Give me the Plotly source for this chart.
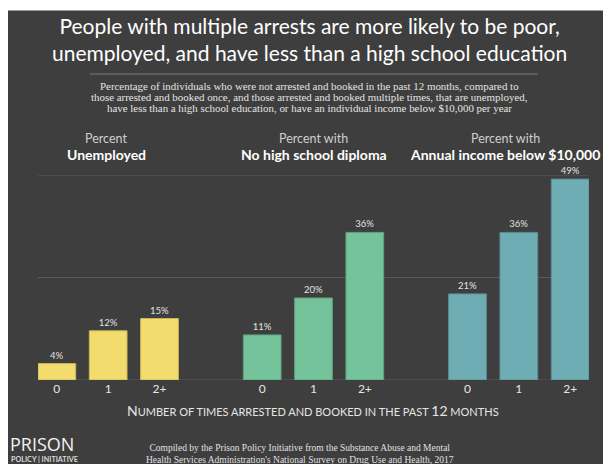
import plotly.graph_objects as go

# ---- data ----
categories = ["0", "1", "2+"]
unemployed = [4, 12, 15]
no_diploma = [11, 20, 36]
low_income = [21, 36, 49]
group_top = ["Percent", "Percent with", "Percent with"]
group_bold = ["Unemployed", "No high school diploma", "Annual income below $10,000"]
colors = ["#f3dc6e", "#74c39a", "#6fadb5"]
edge_colors = ["#c9b55a", "#5fa27f", "#5b8f96"]
grid_values = [0, 25, 50]

series = [unemployed, no_diploma, low_income]

# ---- layout geometry (screen pixels; the page body adds an 8px offset) ----
OFF = 8
W, H = 611 - OFF, 464 - OFF
L, R, T, B = 38, 589, 175, 380  # plot area in screen pixels


def px(x):
    return (x - L) / (R - L)


def py(y):
    return (B - y) / (B - T)


fig = go.Figure()
tickvals, ticktext = [], []
for g, vals in enumerate(series):
    xs = [g * 4 + i for i in range(len(vals))]
    tickvals += xs
    ticktext += categories
    fig.add_trace(go.Bar(
        x=xs, y=vals, width=0.735,
        marker=dict(color=colors[g], line=dict(color=edge_colors[g], width=1)),
        text=[f"{v}%" for v in vals], textposition="outside",
        textfont=dict(family="Lato", size=9.5, color="#e2e2e2"),
        cliponaxis=False, showlegend=False, hoverinfo="skip",
    ))

SANS = "Lato"
SERIF = "Liberation Serif"
ann = []
# title
ann.append(dict(x=px(309.5), y=py(39), xref="paper", yref="paper",
                text="People with multiple arrests are more likely to be poor,<br>unemployed, and have less than a high school education",
                showarrow=False, xanchor="center", yanchor="middle",
                font=dict(family=SANS, size=21, color="#ffffff")))
# subtitle lines
sub = ["Percentage of individuals who were not arrested and booked in the past 12 months, compared to",
       "those arrested and booked once, and those arrested and booked multiple times, that are unemployed,",
       "have less than a high school education, or have an individual income below $10,000 per year"]
for i, s in enumerate(sub):
    ann.append(dict(x=px(309.5), y=py(86 + 11 * i), xref="paper", yref="paper", text=s,
                    showarrow=False, xanchor="center", yanchor="middle",
                    font=dict(family=SERIF, size=10.9, color="#e4e4e4")))
# group headers
hx = [106, 313.5, 505]
for g in range(3):
    ann.append(dict(x=px(hx[g]), y=py(138), xref="paper", yref="paper", text=group_top[g],
                    showarrow=False, xanchor="center", yanchor="middle",
                    font=dict(family=SANS, size=12.5, color="#cfcfcf")))
    ann.append(dict(x=px(hx[g]), y=py(155), xref="paper", yref="paper", text="<b>" + group_bold[g] + "</b>",
                    showarrow=False, xanchor="center", yanchor="middle",
                    font=dict(family=SANS, size=14, color="#ffffff")))
# axis title in small caps
small = 'style="font-size:11px"'
axis_title = (f'N<span {small}>UMBER OF TIMES ARRESTED AND BOOKED IN THE PAST </span>'
              f'12<span {small}> MONTHS</span>')
ann.append(dict(x=px(313), y=py(410), xref="paper", yref="paper", text=axis_title,
                showarrow=False, xanchor="center", yanchor="middle",
                font=dict(family=SANS, size=14, color="#e4e4e4")))
# footer
ann.append(dict(x=px(300), y=py(454), xref="paper", yref="paper",
                text="Compiled by the Prison Policy Initiative from the Substance Abuse and Mental<br>Health Services Administration's National Survey on Drug Use and Health, 2017",
                showarrow=False, xanchor="center", yanchor="middle",
                font=dict(family=SERIF, size=9.5, color="#e0e0e0")))
# logo
ann.append(dict(x=px(8), y=py(444), xref="paper", yref="paper", text="PRISON",
                showarrow=False, xanchor="left", yanchor="middle",
                font=dict(family="Open Sans", size=18, color="#f2f2f2")))
ann.append(dict(x=px(9), y=py(459), xref="paper", yref="paper", text="<b>POLICY | INITIATIVE</b>",
                showarrow=False, xanchor="left", yanchor="middle",
                font=dict(family=SANS, size=7.2, color="#d8d8d8")))

shapes = [
    # separator under title
    dict(type="line", xref="paper", yref="paper", x0=px(90), x1=px(538), y0=py(74), y1=py(74),
         line=dict(color="#7a7a7a", width=1)),
    # thin white strip on top
    dict(type="rect", xref="paper", yref="paper", x0=px(0), x1=px(620), y0=py(10.5), y1=py(0),
         fillcolor="#ffffff", line=dict(width=0), layer="above"),
]
# horizontal gridlines (including baseline and top)
for gv in grid_values:
    shapes.append(dict(type="line", xref="paper", yref="y", x0=0, x1=1, y0=gv, y1=gv,
                       line=dict(color="#5a5a5a", width=1), layer="below"))

fig.update_layout(
    width=W, height=H,
    margin=dict(l=L - OFF, r=611 - R, t=T - OFF, b=464 - B),
    paper_bgcolor="#3e3e3e", plot_bgcolor="rgba(0,0,0,0)",
    barmode="overlay",
    xaxis=dict(range=[-0.367, 10.367], tickvals=tickvals, ticktext=ticktext,
               showgrid=False, zeroline=False, showline=False, ticks="",
               tickfont=dict(family=SANS, size=12, color="#e6e6e6")),
    yaxis=dict(range=[0, 50], showticklabels=False,
               showgrid=False, zeroline=False),
    annotations=ann, shapes=shapes,
)

fig.write_html("out.html")
